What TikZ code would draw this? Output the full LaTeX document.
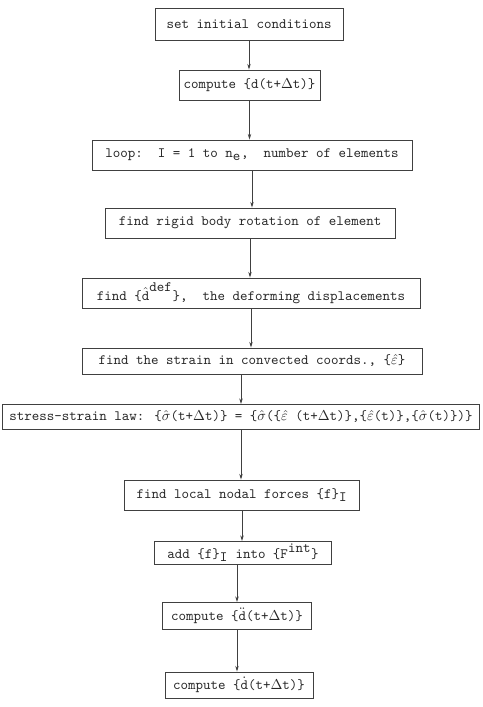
\documentclass[tikz,border=0pt]{standalone}
\usetikzlibrary{arrows.meta}
\begin{document}
\begin{tikzpicture}[x=0.7pt, y=-0.7pt,
	flowbox/.style={draw=black!75, line width=0.6pt, text=black!85, font=\ttfamily, inner xsep=3pt, inner ysep=1.5pt, minimum height=21pt},
	flow/.style={draw=black!75, line width=0.6pt, -{Stealth[length=4pt, width=2.4pt]}}]
	\useasboundingbox (0,0) rectangle (482,707);
	\node [flowbox, minimum width=131.6pt, minimum height=22.4pt] (init) at (249,24) {set initial conditions};
	\node [flowbox, minimum width=98.7pt] (dnew) at (249.5,85) {compute \{d(t+$\Delta$t)\}};
	\node [flowbox, minimum width=224pt] (loop) at (252,155) {loop:~~I = 1 to n$_{\texttt{e}}$,~~number of elements};
	\node [flowbox, minimum width=203pt] (rot) at (250,223) {find rigid body rotation of element};
	\node [flowbox, minimum width=236.6pt] (ddef) at (251,293) {find \{$\hat{\texttt{d}}^{\texttt{def}}$\},~~the deforming displacements};
	\node [flowbox, minimum width=238pt, minimum height=18.2pt] (strain) at (252,361) {find the strain in convected coords., \{$\hat{\varepsilon}$\}};
	\node [flowbox, minimum width=333.9pt, minimum height=17.5pt] (law) at (241,417) {stress-strain law: \{$\hat{\sigma}$(t+$\Delta$t)\} = \{$\hat{\sigma}$(\{$\hat{\varepsilon}$ (t+$\Delta$t)\},\{$\hat{\varepsilon}$(t)\},\{$\hat{\sigma}$(t)\})\}};
	\node [flowbox, minimum width=164.5pt] (force) at (242,495) {find local nodal forces \{f\}$_{\texttt{I}}$};
	\node [flowbox, minimum width=123.9pt, minimum height=16.1pt] (assem) at (243,553) {add \{f\}$_{\texttt{I}}$ into \{F$^{\texttt{int}}$\}};
	\node [flowbox, minimum width=104.3pt, minimum height=18.9pt] (accel) at (237,616) {compute \{$\ddot{\texttt{d}}$(t+$\Delta$t)\}};
	\node [flowbox, minimum width=103.6pt, minimum height=18.2pt] (vel) at (239,685) {compute \{$\dot{\texttt{d}}$(t+$\Delta$t)\}};
	\draw [flow] (init.south) -- (init.south |- dnew.north);
	\draw [flow] (dnew.south) -- (dnew.south |- loop.north);
	\draw [flow] (loop.south) -- (loop.south |- rot.north);
	\draw [flow] (rot.south) -- (rot.south |- ddef.north);
	\draw [flow] (ddef.south) -- (ddef.south |- strain.north);
	\draw [flow] (law.north |- strain.south) -- (law.north);
	\draw [flow] (law.south) -- (law.south |- force.north);
	\draw [flow] (force.south) -- (force.south |- assem.north);
	\draw [flow] (accel.north |- assem.south) -- (accel.north);
	\draw [flow] (accel.south) -- (accel.south |- vel.north);
\end{tikzpicture}
\end{document}
